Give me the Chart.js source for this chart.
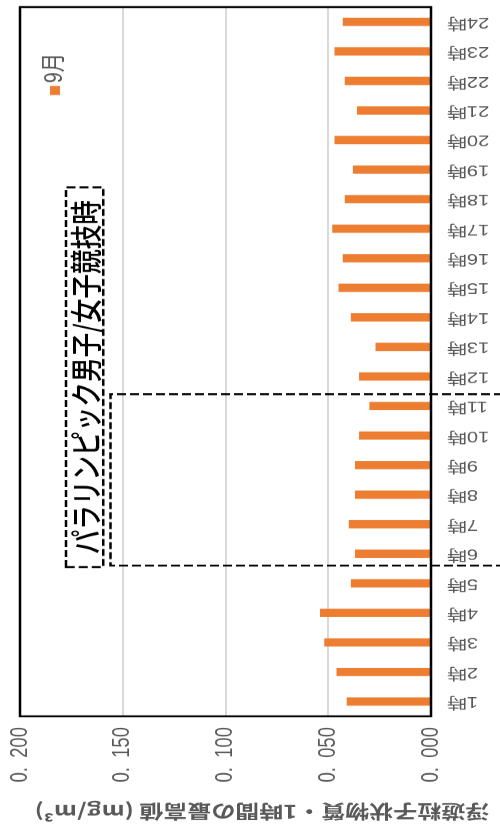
<!DOCTYPE html>
<html>
<head>
<meta charset="utf-8">
<script src="https://cdn.jsdelivr.net/npm/chart.js@4.4.1/dist/chart.umd.min.js"></script>
<style>
  html, body { margin: 0; padding: 0; background: #fff; overflow: hidden; }
  #wrap { position: relative; width: 500px; height: 834px; overflow: hidden; }
  #chart { position: absolute; left: 0; top: 0; transform-origin: 0 0; }
</style>
</head>
<body>
<div id="wrap"><canvas id="chart"></canvas></div>
<script>
// data
const hours = ['1時','2時','3時','4時','5時','6時','7時','8時','9時','10時','11時','12時',
  '13時','14時','15時','16時','17時','18時','19時','20時','21時','22時','23時','24時'];
const spmMax = [0.041, 0.046, 0.052, 0.054, 0.039, 0.037, 0.040, 0.037, 0.037, 0.035, 0.030, 0.035,
  0.027, 0.039, 0.045, 0.043, 0.048, 0.042, 0.038, 0.047, 0.036, 0.042, 0.047, 0.043];
const yTickLabels = ['0.\u2002000', '0.\u2002050', '0.\u2002100', '0.\u2002150', '0.\u2002200'];
const seriesName = '9月';
const axisTitle = '浮遊粒子状物質・1時間の最高値 (mg/m³)';
const noteText = 'パラリンピック男子/女子競技時';

// the picture is a column chart turned a quarter turn and squeezed along its width
const K = 1.3;
const W = Math.round(834 * K), H = 500;
const textColor = '#595959';
const family = "'Liberation Sans', 'Noto Sans CJK JP', sans-serif";

const canvas = document.getElementById('chart');
canvas.width = W;
canvas.height = H;
canvas.style.width = W + 'px';
canvas.style.height = H + 'px';
canvas.style.transform = `translate(0px, 834px) rotate(-90deg) scaleX(${1 / K})`;

const extras = {
  id: 'extras',
  afterDraw(chart) {
    const { ctx, chartArea: a, scales: { x, y } } = chart;
    ctx.save();

    // frame around the plot
    ctx.strokeStyle = '#000';
    ctx.lineWidth = 2.5;
    ctx.setLineDash([]);
    ctx.strokeRect(a.left, a.top, a.right - a.left, a.bottom - a.top);

    // competition period box
    ctx.lineWidth = 2.5;
    ctx.setLineDash([9, 4]);
    const pl = x.getPixelForValue(4.6), pr = x.getPixelForValue(10.4), pt = y.getPixelForValue(0.156);
    ctx.beginPath();
    ctx.moveTo(pl, H + 5);
    ctx.lineTo(pl, pt);
    ctx.lineTo(pr, pt);
    ctx.lineTo(pr, H + 5);
    ctx.stroke();

    // note label
    const nl = x.getPixelForValue(4.55), nr = x.getPixelForValue(17.4);
    const nt = y.getPixelForValue(0.1776), nb = y.getPixelForValue(0.1595);
    ctx.fillStyle = '#fff';
    ctx.fillRect(nl, nt, nr - nl, nb - nt);
    ctx.strokeRect(nl, nt, nr - nl, nb - nt);
    ctx.setLineDash([]);
    ctx.fillStyle = '#000';
    ctx.font = "500 32px 'Noto Sans CJK JP', sans-serif";
    ctx.textAlign = 'center';
    ctx.textBaseline = 'middle';
    ctx.fillText(noteText, (nl + nr) / 2, (nt + nb) / 2 + 1);

    // legend
    ctx.fillStyle = '#ED7D31';
    ctx.fillRect(739 * K, 50, 9 * K, 10);
    ctx.fillStyle = textColor;
    ctx.font = '25px ' + family;
    ctx.textAlign = 'left';
    ctx.fillText(seriesName, 751 * K, 55);

    // value axis title
    ctx.translate(29, 262);
    ctx.rotate(-Math.PI / 2);
    ctx.font = "bold 24px 'Noto Sans CJK JP', sans-serif";
    ctx.fillStyle = textColor;
    ctx.textAlign = 'center';
    ctx.fillText(axisTitle, 0, 0);
    ctx.restore();
  }
};

new Chart(canvas, {
  type: 'bar',
  data: {
    labels: hours,
    datasets: [{
      label: seriesName,
      data: spmMax,
      backgroundColor: '#ED7D31',
      categoryPercentage: 1,
      barPercentage: 0.28,
    }]
  },
  options: {
    responsive: false,
    animation: false,
    devicePixelRatio: 1,
    layout: { padding: { top: 20, right: W - Math.round(827 * K), bottom: 0, left: 0 } },
    plugins: { legend: { display: false }, tooltip: { enabled: false } },
    scales: {
      x: {
        grid: { display: false },
        border: { display: false },
        ticks: { minRotation: 90, maxRotation: 90, autoSkip: false, padding: 8, color: textColor, font: { family, size: 20 } },
        afterFit: s => { s.height = 69; s.paddingLeft = 0; s.paddingRight = 0; },
      },
      y: {
        min: 0,
        max: 0.2,
        grid: { color: '#d9d9d9', lineWidth: 2, drawTicks: false },
        border: { display: false },
        ticks: { stepSize: 0.05, padding: 14, color: textColor, font: { family, size: 24 }, callback: (v, i) => yTickLabels[i] },
        afterFit: s => { s.width = Math.round(118 * K); s.paddingTop = 0; s.paddingBottom = 0; },
      },
    },
  },
  plugins: [extras],
});
</script>
</body>
</html>
